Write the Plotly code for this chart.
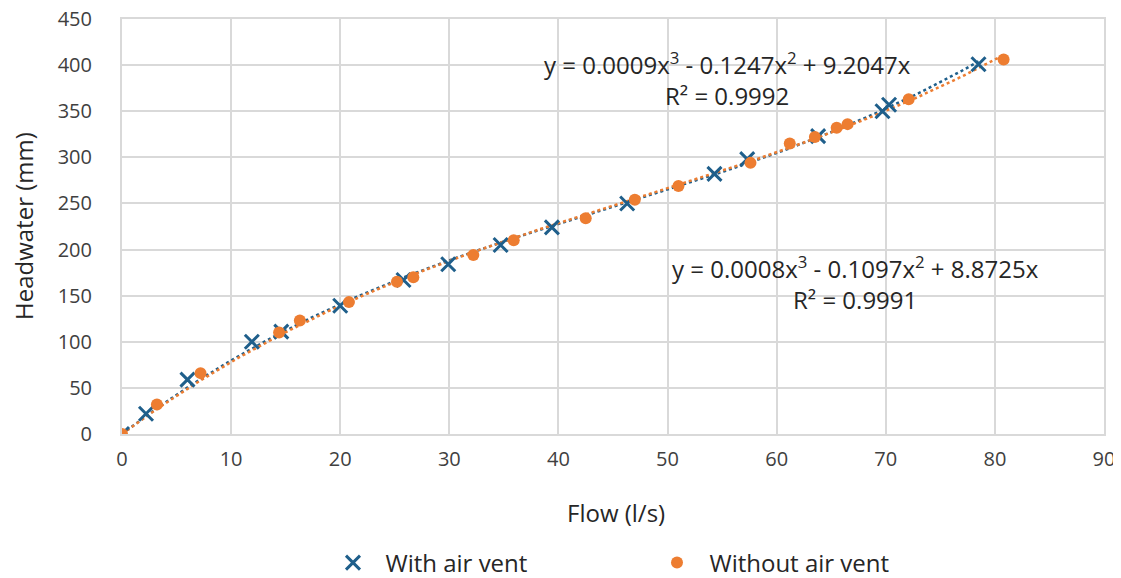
import numpy as np
import plotly.graph_objects as go

# Data
with_x = [0, 2.2, 6.0, 11.9, 14.6, 20.0, 25.8, 29.9, 34.7, 39.4, 46.3, 54.3, 57.3, 63.8, 69.7, 70.3, 78.5]
with_y = [0, 22, 59, 100, 111, 139, 167, 184, 205, 224, 250, 282, 298, 323, 350, 357, 401]

without_x = [0, 3.2, 7.2, 14.4, 16.3, 20.8, 25.2, 26.7, 32.2, 35.9, 42.5, 47.0, 51.0, 57.6, 61.2, 63.5, 65.5, 66.5, 72.1, 80.8]
without_y = [0, 32, 66, 110, 123, 143, 165, 170, 194, 210, 234, 254, 269, 294, 315, 322, 332, 336, 363, 406]

x_ticks = [0, 10, 20, 30, 40, 50, 60, 70, 80, 90]
y_ticks = [0, 50, 100, 150, 200, 250, 300, 350, 400, 450]

series_names = ["With air vent", "Without air vent"]
eq_with = "y = 0.0009x<sup>3</sup> - 0.1247x<sup>2</sup> + 9.2047x<br>R² = 0.9992"
eq_without = "y = 0.0008x<sup>3</sup> - 0.1097x<sup>2</sup> + 8.8725x<br>R² = 0.9991"

BLUE = "#1F5F8B"
ORANGE = "#ED7D31"
GRID = "#D9D9D9"
FONT = "Open Sans"
GREY_TXT = "#404040"
DARK_TXT = "#262626"

# the page body adds an 8px offset, so the figure is 8px smaller
W, H = 1113, 570
ML, MT = 114, 11
PW, PH = 982, 415
MR = W - ML - PW
MB = H - MT - PH

# reference plot area (screen pixels)
RX0, RY0 = 122, 434


def px(rx):
    return (rx - RX0) / PW


def py(ry):
    return (RY0 - ry) / PH


def cubic_fit(xs, ys):
    xs = np.asarray(xs, float)
    ys = np.asarray(ys, float)
    A = np.vstack([xs ** 3, xs ** 2, xs]).T
    coef, *_ = np.linalg.lstsq(A, ys, rcond=None)
    xx = np.linspace(0, xs.max(), 200)
    return xx, coef[0] * xx ** 3 + coef[1] * xx ** 2 + coef[2] * xx


fig = go.Figure()

tx, ty = cubic_fit(with_x, with_y)
fig.add_trace(go.Scatter(x=tx, y=ty, mode="lines", showlegend=False,
                         line=dict(color=BLUE, width=2.5, dash="dot"), hoverinfo="skip"))
tx2, ty2 = cubic_fit(without_x, without_y)
fig.add_trace(go.Scatter(x=tx2, y=ty2, mode="lines", showlegend=False,
                         line=dict(color=ORANGE, width=2.5, dash="dot"), hoverinfo="skip"))

fig.add_trace(go.Scatter(x=with_x, y=with_y, mode="markers", name="\u00a0\u00a0" + series_names[0],
                         marker=dict(symbol="x-thin", size=14, color=BLUE,
                                     line=dict(color=BLUE, width=3))))
fig.add_trace(go.Scatter(x=without_x, y=without_y, mode="markers", name="\u00a0\u00a0" + series_names[1],
                         marker=dict(symbol="circle", size=12, color=ORANGE)))

# trendline equations
fig.add_annotation(x=px(727), y=py(79), xref="paper", yref="paper", text=eq_with,
                   showarrow=False, align="center", xanchor="center", yanchor="middle",
                   font=dict(family=FONT, size=24, color=DARK_TXT))
fig.add_annotation(x=px(855), y=py(283), xref="paper", yref="paper", text=eq_without,
                   showarrow=False, align="center", xanchor="center", yanchor="middle",
                   font=dict(family=FONT, size=24, color=DARK_TXT))

# axis titles
fig.add_annotation(x=px(616), y=py(512), xref="paper", yref="paper",
                   text="Flow (l/s)", showarrow=False, xanchor="center", yanchor="middle",
                   font=dict(family=FONT, size=24, color=DARK_TXT))
fig.add_annotation(x=px(24), y=py(226), xref="paper", yref="paper",
                   text="Headwater (mm)", showarrow=False, textangle=-90,
                   xanchor="center", yanchor="middle",
                   font=dict(family=FONT, size=24, color=DARK_TXT))

fig.update_layout(
    width=W, height=H,
    margin=dict(l=ML, r=MR, t=MT, b=MB, autoexpand=False),
    paper_bgcolor="white", plot_bgcolor="white",
    font=dict(family=FONT, size=20, color=GREY_TXT),
    legend=dict(orientation="h", x=px(657), xanchor="center", y=py(563), yanchor="middle",
                entrywidth=279, font=dict(size=24, color=DARK_TXT)),
)
fig.update_xaxes(range=[0, 90], tickvals=x_ticks, showgrid=True, gridcolor=GRID,
                 gridwidth=2, zeroline=False, showline=True, mirror=True,
                 linecolor=GRID, linewidth=2, ticks="", automargin=False,
                 ticklabelstandoff=6, ticklabeloverflow="allow",
                 tickfont=dict(size=20, color=GREY_TXT))
fig.update_yaxes(range=[0, 450], tickvals=y_ticks, showgrid=True, gridcolor=GRID,
                 gridwidth=2, zeroline=False, showline=True, mirror=True,
                 linecolor=GRID, linewidth=2, ticks="", automargin=False,
                 ticklabelstandoff=24, ticklabeloverflow="allow",
                 tickfont=dict(size=20, color=GREY_TXT))

fig.write_html("out.html")
